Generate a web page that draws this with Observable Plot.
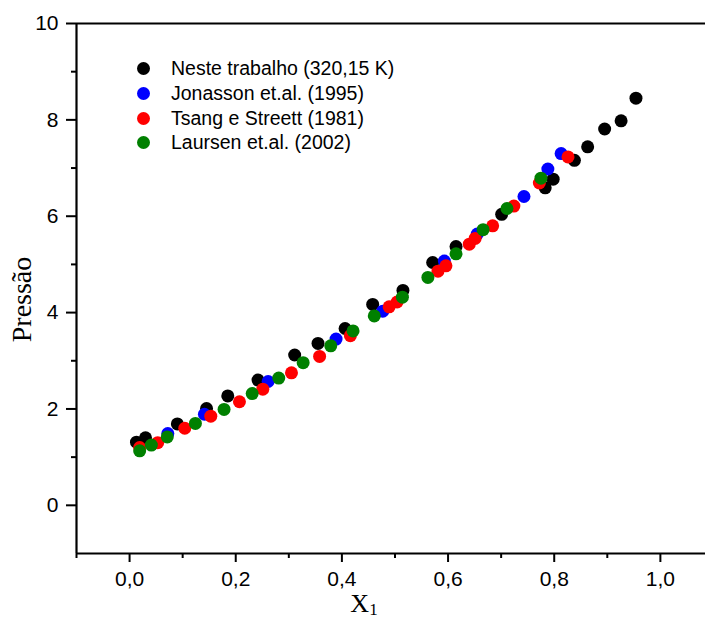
<!DOCTYPE html>
<html>
<head>
<meta charset="utf-8">
<script src="https://cdn.jsdelivr.net/npm/d3@7"></script>
<script src="https://cdn.jsdelivr.net/npm/@observablehq/plot@0.6"></script>
<style>
  body { margin: 0; background: #fff; }
  #wrap { position: relative; width: 705px; height: 619px; overflow: hidden; }
  #legend { position: absolute; left: 0; top: 0; font-family: "Liberation Sans", Arial, sans-serif; font-size: 19.5px; color: #000; }
  .row { position: absolute; left: 136.5px; height: 24px; display: flex; align-items: center; white-space: nowrap; }
  .sw { width: 13px; height: 13px; border-radius: 50%; margin-right: 21.5px; flex: none; }
</style>
</head>
<body>
<div id="wrap"><div id="legend"></div></div>
<script>
// Series names and colours
const seriesNames = ["Neste trabalho (320,15 K)", "Jonasson et.al. (1995)", "Tsang e Streett (1981)", "Laursen et.al. (2002)"];
const seriesColors = ["#000000", "#0000ff", "#ff0000", "#008000"];

// Neste trabalho
const blackX = [0.013, 0.030, 0.090, 0.145, 0.185, 0.242, 0.311, 0.355, 0.406, 0.458, 0.515, 0.571, 0.615, 0.701, 0.783, 0.798, 0.838, 0.863, 0.895, 0.926, 0.954];
const blackY = [1.31, 1.40, 1.69, 2.01, 2.27, 2.60, 3.12, 3.36, 3.67, 4.17, 4.46, 5.04, 5.37, 6.04, 6.59, 6.77, 7.16, 7.44, 7.81, 7.98, 8.45];
// Jonasson
const blueX = [0.072, 0.141, 0.261, 0.389, 0.477, 0.593, 0.655, 0.743, 0.788, 0.813];
const blueY = [1.49, 1.89, 2.57, 3.45, 4.03, 5.07, 5.63, 6.41, 6.98, 7.30];
// Tsang e Streett
const redX = [0.019, 0.053, 0.104, 0.153, 0.207, 0.251, 0.305, 0.358, 0.416, 0.489, 0.504, 0.581, 0.596, 0.640, 0.651, 0.684, 0.724, 0.772, 0.826];
const redY = [1.20, 1.30, 1.60, 1.85, 2.15, 2.41, 2.75, 3.09, 3.52, 4.12, 4.22, 4.86, 4.97, 5.42, 5.54, 5.80, 6.21, 6.69, 7.23];
// Laursen
const greenX = [0.019, 0.041, 0.071, 0.124, 0.178, 0.231, 0.281, 0.327, 0.379, 0.421, 0.461, 0.514, 0.562, 0.615, 0.666, 0.711, 0.775];
const greenY = [1.13, 1.25, 1.42, 1.70, 1.99, 2.32, 2.64, 2.96, 3.31, 3.62, 3.93, 4.32, 4.73, 5.22, 5.72, 6.16, 6.79];

// Ticks
const xMajor = [0.0, 0.2, 0.4, 0.6, 0.8, 1.0];
const xMinor = [-0.1, 0.1, 0.3, 0.5, 0.7, 0.9];
const yMajor = [0, 2, 4, 6, 8, 10];
const yMinor = [1, 3, 5, 7, 9];

const xs = [blackX, blueX, redX, greenX];
const ys = [blackY, blueY, redY, greenY];
const data = [];
seriesNames.forEach((name, i) => {
  xs[i].forEach((x, j) => data.push({series: name, x, y: ys[i][j]}));
});

const comma = d => d3.format(".1f")(d).replace(".", ",");

const chart = Plot.plot({
  width: 705,
  height: 619,
  marginLeft: 76,
  marginRight: 0,
  marginTop: 23,
  marginBottom: 66,
  x: {domain: [-0.1, 1.085]},
  y: {domain: [-1, 10]},
  color: {domain: seriesNames, range: seriesColors},
  style: {fontFamily: "'Liberation Sans', Arial, sans-serif", fontSize: "21px", color: "#000", background: "#fff", overflow: "visible"},
  marks: [
    Plot.axisX(xMajor, {tickSize: 9, tickPadding: 9, strokeWidth: 2, tickFormat: comma, label: null, fontSize: 21}),
    Plot.axisX(xMinor, {tickSize: 5, strokeWidth: 2, tickFormat: () => "", label: null}),
    Plot.axisY(yMajor, {tickSize: 10, tickPadding: 8, strokeWidth: 2, tickFormat: d => String(d), label: null, fontSize: 21}),
    Plot.axisY(yMinor, {tickSize: 5, strokeWidth: 2, tickFormat: () => "", label: null}),
    Plot.ruleY([10, -1], {strokeWidth: 2.2}),
    Plot.ruleX([-0.1], {strokeWidth: 2.2}),
    Plot.dot(data, {x: "x", y: "y", fill: "series", r: 6.5, stroke: null}),
    Plot.text(["Pressão"], {frameAnchor: "left", dx: -54, dy: 11, rotate: -90, textAnchor: "middle", fontFamily: "'Liberation Serif', 'Times New Roman', serif", fontSize: 28}),
    Plot.text(["X1"], {frameAnchor: "bottom", dx: -27, dy: 58, textAnchor: "middle", fontFamily: "'Liberation Serif', 'Times New Roman', serif", fontSize: 26})
  ]
});

// subscript for X1
d3.select(chart).selectAll("text").filter(function() { return this.textContent === "X1"; })
  .each(function() {
    const t = d3.select(this);
    t.text("");
    t.append("tspan").text("X");
    t.append("tspan").attr("font-size", 17).attr("dy", "0.2em").text("1");
  });

document.getElementById("wrap").prepend(chart);

const legend = document.getElementById("legend");
const rowCenters = [68, 93.5, 118, 142.5];
seriesNames.forEach((name, i) => {
  const row = document.createElement("div");
  row.className = "row";
  row.style.top = (rowCenters[i] - 12) + "px";
  const sw = document.createElement("div");
  sw.className = "sw";
  sw.style.background = seriesColors[i];
  const label = document.createElement("span");
  label.textContent = name;
  row.appendChild(sw);
  row.appendChild(label);
  legend.appendChild(row);
});
</script>
</body>
</html>
